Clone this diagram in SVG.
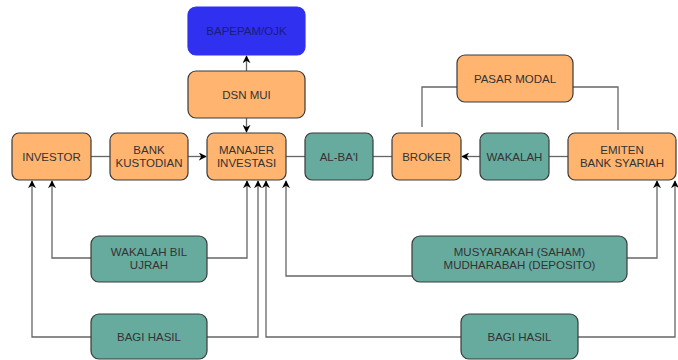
<svg xmlns="http://www.w3.org/2000/svg" width="678" height="360" viewBox="0 0 678 360">
<defs>
<marker id="ah" viewBox="0 0 10 10" refX="9" refY="5" markerWidth="8" markerHeight="8" markerUnits="userSpaceOnUse" orient="auto">
<path d="M0,0 L10,5 L0,10 L3,5 Z" fill="#000"/>
</marker>
<style>
.o{fill:#FFB570;stroke:#3a3a3a;stroke-width:1.2}
.t{fill:#67AB9F;stroke:#3a3a3a;stroke-width:1.2}
.b{fill:#3030F0;stroke:#3030F0;stroke-width:1.2}
text{font-family:"Liberation Sans",Arial,sans-serif;font-size:11.5px;fill:#333;text-anchor:middle}
.c path{fill:none;stroke:#666;stroke-width:1.3}
.c .a{marker-end:url(#ah)}
</style>
</defs>
<rect width="678" height="360" fill="#fff"/>
<g class="c" id="connectors">
<path class="a" d="M246.5,71 V56"/>
<path class="a" d="M246.5,118 V132"/>
<path d="M91,156.5 H110"/>
<path class="a" d="M188,156.5 H206"/>
<path d="M286,156.5 H305"/>
<path d="M373,156.5 H392"/>
<path class="a" d="M480,156.5 H462"/>
<path d="M568,156.5 H549"/>
<path d="M457,87 H422 V127"/>
<path d="M573,87 H618 V130"/>
<path class="a" d="M91,258 H52 V181"/>
<path class="a" d="M207,258 H247 V181"/>
<path class="a" d="M91,337 H32 V181"/>
<path class="a" d="M207,337 H258 V181"/>
<path class="a" d="M461,337 H266 V181"/>
<path class="a" d="M578,337 H675 V181"/>
<path class="a" d="M412,276 H286 V181"/>
<path class="a" d="M627,258 H657 V181"/>
</g>
<g id="bapepam"><rect class="b" x="188" y="7" width="117" height="48" rx="8"/><text x="246.5" y="35" style="fill:#1c1c78">BAPEPAM/OJK</text></g>
<g id="dsn"><rect class="o" x="188" y="71" width="117" height="47" rx="8"/><text x="246.5" y="98.5">DSN MUI</text></g>
<g id="investor"><rect class="o" x="12" y="133" width="79" height="47" rx="7"/><text x="51.5" y="160.5">INVESTOR</text></g>
<g id="bank"><rect class="o" x="110" y="133" width="78" height="47" rx="7"/><text x="149" y="154">BANK</text><text x="149" y="167">KUSTODIAN</text></g>
<g id="manajer"><rect class="o" x="207" y="133" width="79" height="47" rx="7"/><text x="246.5" y="154">MANAJER</text><text x="246.5" y="167">INVESTASI</text></g>
<g id="albai"><rect class="t" x="305" y="133" width="68" height="47" rx="7"/><text x="339" y="160.5">AL-BA'I</text></g>
<g id="broker"><rect class="o" x="392" y="133" width="69" height="47" rx="7"/><text x="426.5" y="160.5">BROKER</text></g>
<g id="wakalah"><rect class="t" x="480" y="133" width="69" height="47" rx="7"/><text x="514.5" y="160.5">WAKALAH</text></g>
<g id="emiten"><rect class="o" x="568" y="133" width="108" height="47" rx="7"/><text x="622" y="154">EMITEN</text><text x="622" y="167">BANK SYARIAH</text></g>
<g id="pasar"><rect class="o" x="457" y="55" width="116" height="47" rx="8"/><text x="515" y="82.5">PASAR MODAL</text></g>
<g id="wakalahbil"><rect class="t" x="91" y="236" width="116" height="46" rx="8"/><text x="149" y="256">WAKALAH BIL</text><text x="149" y="269">UJRAH</text></g>
<g id="bagi1"><rect class="t" x="91" y="314" width="116" height="45" rx="8"/><text x="149" y="340.5">BAGI HASIL</text></g>
<g id="musyarakah"><rect class="t" x="412" y="236" width="215" height="46" rx="8"/><text x="519.5" y="256">MUSYARAKAH (SAHAM)</text><text x="519.5" y="269">MUDHARABAH (DEPOSITO)</text></g>
<g id="bagi2"><rect class="t" x="461" y="314" width="117" height="45" rx="8"/><text x="519.5" y="340.5">BAGI HASIL</text></g>
</svg>
